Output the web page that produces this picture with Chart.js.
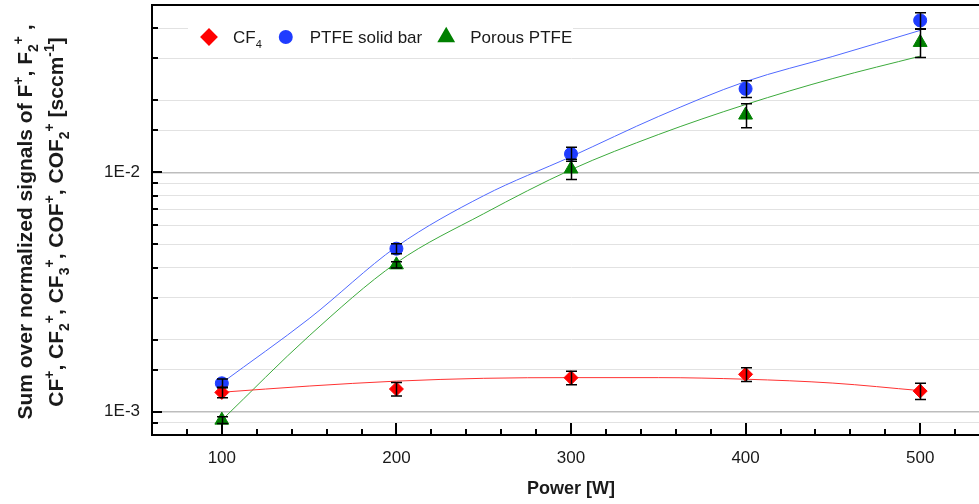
<!DOCTYPE html>
<html>
<head>
<meta charset="utf-8">
<script src="https://cdn.jsdelivr.net/npm/chart.js@4.4.0/dist/chart.umd.min.js"></script>
<style>
html, body { margin: 0; padding: 0; background: #fff; overflow: hidden; }
canvas { display: block; }
</style>
</head>
<body>
<canvas id="chart" width="1000" height="504"></canvas>
<script>
// measured points, power in W
var powers = [100, 200, 300, 400, 500];
var cf4 = [1.205e-3, 1.245e-3, 1.388e-3, 1.434e-3, 1.220e-3];
var cf4Err = [0.06e-3, 0.08e-3, 0.09e-3, 0.095e-3, 0.095e-3];
var ptfe = [1.315e-3, 4.80e-3, 1.194e-2, 2.233e-2, 4.312e-2];
var ptfeErr = [0.055e-3, 0.23e-3, 0.08e-2, 0.18e-2, 0.33e-2];
var porous = [9.23e-4, 4.11e-3, 1.033e-2, 1.735e-2, 3.488e-2];
var porousErr = [0.03e-3, 0.12e-3, 0.10e-2, 0.20e-2, 0.47e-2];

// fitted curves
var fitX = [100, 150, 200, 250, 300, 350, 400, 450, 500];
var cf4Fit = [1.207e-3, 1.281e-3, 1.343e-3, 1.380e-3, 1.389e-3, 1.389e-3, 1.368e-3, 1.318e-3, 1.226e-3];
var ptfeFit = [1.32e-3, 2.45e-3, 4.89e-3, 7.99e-3, 1.163e-2, 1.71e-2, 2.395e-2, 3.05e-2, 3.916e-2];
var porousFit = [9.23e-4, 2.075e-3, 4.19e-3, 6.72e-3, 1.026e-2, 1.438e-2, 1.92e-2, 2.466e-2, 3.057e-2];

var xTicks = [100, 200, 300, 400, 500];
var yLabels = { '-3': '1E-3', '-2': '1E-2' };

var FONT = '"Liberation Sans", Arial, sans-serif';

function pts(xs, ys) {
    var out = [];
    for (var i = 0; i < xs.length; i++) out.push({ x: xs[i], y: ys[i] });
    return out;
}

function decade(v) {
    var l = Math.log10(v);
    return Math.abs(l - Math.round(l)) < 1e-6 ? Math.round(l) : null;
}

// text with sub/superscripts: parts = [text, sub, sup], sub then sup
function drawRich(ctx, parts, x, y, size, weight, measureOnly) {
    var small = Math.round(size * 0.65);
    var x0 = x;
    parts.forEach(function (p) {
        ctx.font = weight + ' ' + size + 'px ' + FONT;
        if (!measureOnly) ctx.fillText(p[0], x, y);
        x += ctx.measureText(p[0]).width;
        ctx.font = weight + ' ' + small + 'px ' + FONT;
        if (p[1]) {
            if (!measureOnly) ctx.fillText(p[1], x, y + size * 0.3);
            x += ctx.measureText(p[1]).width;
        }
        if (p[2]) {
            if (!measureOnly) ctx.fillText(p[2], x, y - size * 0.45);
            x += ctx.measureText(p[2]).width;
        }
    });
    return measureOnly ? x - x0 : x;
}

var yTitle1 = [['Sum over normalized signals of F', '', '+'], [', F', '2', '+'], [' ,', '', '']];
var yTitle2 = [['CF', '', '+'], [', CF', '2', '+'], [', CF', '3', '+'], [', COF', '', '+'], [', COF', '2', '+'], [' [sccm', '', '-1'], [']', '', '']];

var legendItems = [
    { parts: [['CF', '4', '']], style: 'rectRot', color: '#ff0000', r: 7.5 },
    { parts: [['PTFE solid bar', '', '']], style: 'circle', color: '#1f3cff', r: 6 },
    { parts: [['Porous PTFE', '', '']], style: 'triangle', color: '#008000', r: 8.3 }
];

var decor = {
    id: 'decor',
    afterDatasetsDraw: function (chart) {
        var ctx = chart.ctx, xs = chart.scales.x, ys = chart.scales.y;
        chart.data.datasets.forEach(function (ds) {
            if (!ds.err) return;
            ctx.save();
            ctx.strokeStyle = '#000';
            ctx.lineWidth = 1.5;
            ds.data.forEach(function (p, j) {
                var px = Math.round(xs.getPixelForValue(p.x)) + 0.5;
                var top = ys.getPixelForValue(p.y + ds.err[j]);
                var bot = ys.getPixelForValue(p.y - ds.err[j]);
                ctx.beginPath();
                ctx.moveTo(px, top); ctx.lineTo(px, bot);
                ctx.moveTo(px - 5.5, top); ctx.lineTo(px + 5.5, top);
                ctx.moveTo(px - 5.5, bot); ctx.lineTo(px + 5.5, bot);
                ctx.stroke();
            });
            ctx.restore();
        });
    },
    afterDraw: function (chart) {
        var ctx = chart.ctx, a = chart.chartArea, xs = chart.scales.x, ys = chart.scales.y;
        ctx.save();
        ctx.strokeStyle = '#000';
        ctx.lineWidth = 2;
        // top frame
        ctx.beginPath();
        ctx.moveTo(a.left - 1, a.top); ctx.lineTo(a.right, a.top);
        ctx.stroke();
        // inward ticks, x
        ctx.beginPath();
        for (var v = 80; v <= 520; v += 20) {
            var px = Math.round(xs.getPixelForValue(v));
            var len = v % 100 === 0 ? 12 : 6;
            ctx.moveTo(px, a.bottom); ctx.lineTo(px, a.bottom - len);
        }
        // inward ticks, y
        ys.ticks.forEach(function (t) {
            var py = Math.round(ys.getPixelForValue(t.value));
            if (py <= a.top + 1 || py >= a.bottom - 1) return;
            var len = decade(t.value) !== null ? 10 : 6;
            ctx.moveTo(a.left, py); ctx.lineTo(a.left + len, py);
        });
        ctx.stroke();

        // legend
        ctx.fillStyle = '#fff';
        ctx.fillRect(a.left + 36, a.top + 14, 385, 38);
        var lx = a.left + 57, ly = a.top + 32;
        legendItems.forEach(function (it) {
            ctx.fillStyle = it.color;
            ctx.strokeStyle = it.color;
            Chart.helpers.drawPoint(ctx, { pointStyle: it.style, radius: it.r, rotation: 0, borderWidth: 1 }, lx, ly);
            ctx.fillStyle = '#1a1a1a';
            ctx.textBaseline = 'alphabetic';
            ctx.textAlign = 'left';
            var end = drawRich(ctx, it.parts, lx + 24, ly + 6, 17, 'normal');
            lx = end + 24;
        });

        // axis titles
        ctx.fillStyle = '#1a1a1a';
        ctx.font = 'bold 18px ' + FONT;
        ctx.textAlign = 'center';
        ctx.textBaseline = 'middle';
        ctx.fillText('Power [W]', (a.left + a.right) / 2, 489);

        ctx.textAlign = 'left';
        ctx.textBaseline = 'alphabetic';
        var cy = (a.top + a.bottom) / 2 + 2;
        [[yTitle1, 32], [yTitle2, 63]].forEach(function (ln) {
            var w = drawRich(ctx, ln[0], 0, 0, 21, 'bold', true);
            ctx.save();
            ctx.translate(ln[1], cy);
            ctx.rotate(-Math.PI / 2);
            drawRich(ctx, ln[0], -w / 2, 0, 21, 'bold');
            ctx.restore();
        });
        ctx.restore();
    }
};

new Chart(document.getElementById('chart'), {
    type: 'scatter',
    data: {
        datasets: [
            { label: 'CF4', data: pts(powers, cf4), err: cf4Err, pointStyle: 'rectRot', pointRadius: 7,
              backgroundColor: '#ff0000', borderColor: '#ff0000', borderWidth: 1 },
            { label: 'PTFE solid bar', data: pts(powers, ptfe), err: ptfeErr, pointStyle: 'circle', pointRadius: 6.5,
              backgroundColor: '#1f3cff', borderColor: '#1f3cff', borderWidth: 1 },
            { label: 'Porous PTFE', data: pts(powers, porous), err: porousErr, pointStyle: 'triangle', pointRadius: 8,
              backgroundColor: '#008000', borderColor: '#008000', borderWidth: 1 },
            { label: 'CF4 fit', data: pts(fitX, cf4Fit), showLine: true, pointRadius: 0, borderWidth: 1,
              borderColor: 'rgb(255,50,50)', cubicInterpolationMode: 'monotone' },
            { label: 'PTFE fit', data: pts(fitX, ptfeFit), showLine: true, pointRadius: 0, borderWidth: 1,
              borderColor: 'rgb(80,105,255)', cubicInterpolationMode: 'monotone' },
            { label: 'Porous fit', data: pts(fitX, porousFit), showLine: true, pointRadius: 0, borderWidth: 1,
              borderColor: 'rgb(60,170,60)', cubicInterpolationMode: 'monotone' }
        ]
    },
    options: {
        responsive: false,
        animation: false,
        layout: { autoPadding: false, padding: { left: 0, right: 10, top: 5, bottom: 0 } },
        plugins: { legend: { display: false }, tooltip: { enabled: false } },
        scales: {
            x: {
                type: 'linear',
                min: 60,
                max: 540,
                afterBuildTicks: function (scale) {
                    scale.ticks = xTicks.map(function (v) { return { value: v }; });
                },
                afterFit: function (scale) {
                    scale.height = 69;
                    scale.paddingLeft = 0;
                    scale.paddingRight = 0;
                },
                grid: { display: false, drawTicks: false },
                border: { display: true, color: '#000', width: 2 },
                ticks: { padding: 13, color: '#1a1a1a', font: { family: FONT, size: 17 }, maxRotation: 0 }
            },
            y: {
                type: 'logarithmic',
                min: 8e-4,
                max: 5e-2,
                afterFit: function (scale) {
                    scale.width = 152;
                    scale.paddingTop = 0;
                    scale.paddingBottom = 0;
                },
                grid: {
                    drawTicks: false,
                    color: function (c) { return decade(c.tick.value) !== null ? '#bdbdbd' : '#e2e2e2'; },
                    lineWidth: function (c) { return decade(c.tick.value) !== null ? 1.5 : 1; }
                },
                border: { display: true, color: '#000', width: 2 },
                ticks: {
                    padding: 12,
                    color: '#1a1a1a',
                    font: { family: FONT, size: 17 },
                    autoSkip: false,
                    callback: function (v) {
                        var d = decade(v);
                        return d !== null && yLabels[d] ? yLabels[d] : '';
                    }
                }
            }
        }
    },
    plugins: [decor]
});
</script>
</body>
</html>
